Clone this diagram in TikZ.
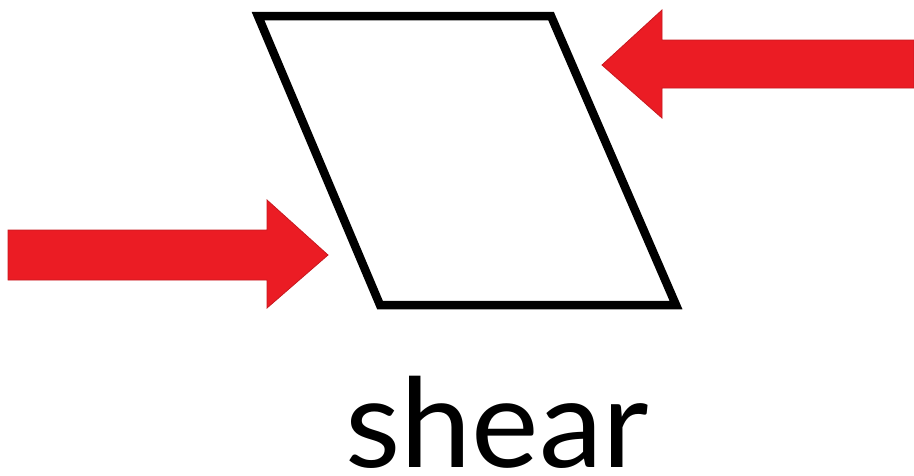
\documentclass[tikz,border=0pt]{standalone}
\usepackage{fontspec}
\setmainfont{Lato}
\definecolor{arrowred}{RGB}{235,28,36}
\begin{document}
\begin{tikzpicture}[x=1pt,y=-1pt,
  arrowshape/.style={fill=arrowred,draw=arrowred!85!black,line width=0.8pt,line join=miter},
  box/.style={draw=black,line width=8.5pt,line join=miter,fill=white}]
\useasboundingbox (0,0) rectangle (914,475);
\fill[white] (0,0) rectangle (914,475);
% parallelogram
\draw[box] (258,16) -- (551,16) -- (676,305) -- (380,305) -- cycle;
% right arrow pointing left
\fill[arrowshape] (602,65) -- (662,10) -- (662,40) -- (914,40) -- (914,88) -- (662,88) -- (662,118) -- cycle;
% left arrow pointing right
\fill[arrowshape] (328,255) -- (267,200) -- (267,230) -- (8,230) -- (8,280) -- (267,280) -- (267,308) -- cycle;
% label
\node[anchor=base,inner sep=0pt] (label) at (497,467) {\scalebox{1.03}[1]{\fontsize{124}{124}\selectfont shear}};
\end{tikzpicture}
\end{document}
